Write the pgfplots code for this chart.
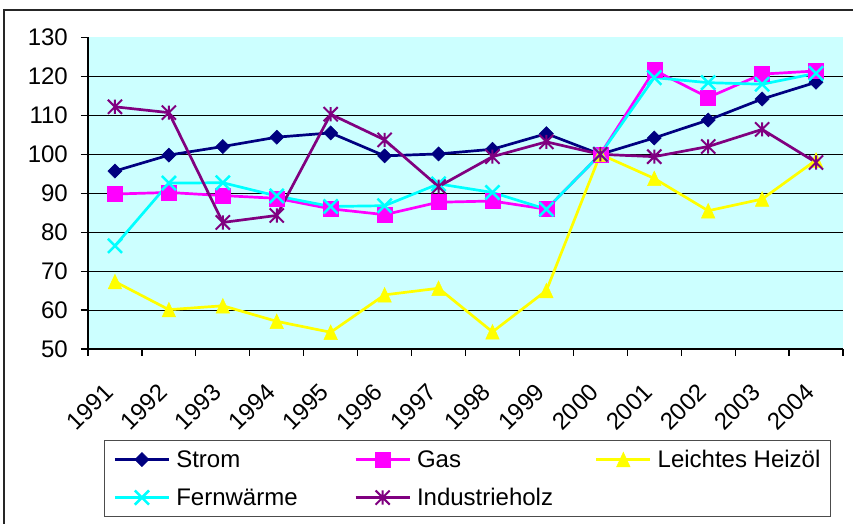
\documentclass[border=0pt]{standalone}
\usepackage{fontspec}
\setmainfont{Liberation Sans}
\usepackage{pgfplots}
\pgfplotsset{compat=1.18}
\definecolor{bgc}{HTML}{CCFFFF}
\definecolor{cstrom}{HTML}{000080}
\definecolor{cgas}{HTML}{FF00FF}
\definecolor{cheiz}{HTML}{FFFF00}
\definecolor{cfern}{HTML}{00FFFF}
\definecolor{cholz}{HTML}{800080}
\newcommand{\bigf}{\fontsize{24}{28}\selectfont}
\pgfdeclareplotmark{xstar}{%
  \pgfpathmoveto{\pgfqpoint{0pt}{.7071\pgfplotmarksize}}%
  \pgfpathlineto{\pgfqpoint{0pt}{-.7071\pgfplotmarksize}}%
  \pgfpathmoveto{\pgfqpoint{-.7071\pgfplotmarksize}{-.7071\pgfplotmarksize}}%
  \pgfpathlineto{\pgfqpoint{.7071\pgfplotmarksize}{.7071\pgfplotmarksize}}%
  \pgfpathmoveto{\pgfqpoint{-.7071\pgfplotmarksize}{.7071\pgfplotmarksize}}%
  \pgfpathlineto{\pgfqpoint{.7071\pgfplotmarksize}{-.7071\pgfplotmarksize}}%
  \pgfusepathqstroke}
\begin{document}
\begin{tikzpicture}[x=1pt,y=1pt]
\useasboundingbox (0,0) rectangle (853,524);
\draw[black!85, line width=1.5pt] (4,-20) -- (4,514) -- (880,514);
\begin{axis}[
  at={(88pt,175pt)}, anchor=south west,
  scale only axis, width=755pt, height=311.5pt,
  xmin=0.5, xmax=14.5, ymin=50, ymax=130,
  clip=false,
  axis background/.style={fill=bgc},
  axis x line*=bottom, axis y line*=left,
  axis line style={black, line width=1.2pt, -},
  tick align=outside,
  major tick length=7pt, minor tick length=7pt,
  tick style={black, line width=1.2pt},
  xtick={1,...,14},
  xticklabels={1991,1992,1993,1994,1995,1996,1997,1998,1999,2000,2001,2002,2003,2004},
  major x tick style={draw=none},
  minor xtick={0.5,1.5,...,14.5},
  ytick={50,60,...,130},
  extra y ticks={60,70,...,120},
  extra y tick labels={},
  extra y tick style={grid=major},
  grid style={black, line width=1pt},
  /pgf/number format/assume math mode=true,
  ticklabel style={font=\bigf},
  yticklabel style={anchor=east, inner sep=0pt, xshift=-13pt},
  xticklabel style={xshift=-6pt, yshift=-32pt, rotate=45, anchor=east, inner sep=0pt},
  legend columns=3,
  legend cell align=left,
  legend style={at={(0.0212,-0.292)}, anchor=north west, draw=black!70, line width=1.2pt,
    font=\bigf, inner xsep=9pt, inner ysep=0pt, column sep=0pt,
    nodes={inner xsep=6pt, inner ysep=10pt, text height=17pt, text depth=1pt}},
  legend image code/.code={\draw[mark repeat=2,mark phase=2] plot coordinates {(0pt,0pt) (27pt,0pt) (54pt,0pt)};},
]
\addplot[cstrom, line width=2.7pt, mark=square*, mark size=5pt, mark options={rotate=45, fill=cstrom, line width=0.5pt}]
coordinates {(1,95.7)(2,99.8)(3,102.0)(4,104.4)(5,105.5)(6,99.6)(7,100.1)(8,101.3)(9,105.3)(10,100)(11,104.2)(12,108.8)(13,114.2)(14,118.5)};
\addlegendentry{\makebox[172pt][l]{Strom}}
\addplot[cgas, line width=2.7pt, mark=square*, mark size=7.5pt, mark options={fill=cgas, line width=0.5pt}]
coordinates {(1,89.8)(2,90.2)(3,89.4)(4,88.7)(5,86.0)(6,84.5)(7,87.7)(8,88.0)(9,85.9)(10,100)(11,121.6)(12,114.6)(13,120.6)(14,121.4)};
\addlegendentry{\makebox[172pt][l]{Gas}}
\addplot[cheiz, line width=2.7pt, mark=triangle*, mark size=7.8pt, mark options={fill=cheiz, line width=0.5pt, yshift=-2.4pt, yscale=1.25}]
coordinates {(1,67.3)(2,60.1)(3,61.1)(4,57.1)(5,54.3)(6,63.9)(7,65.6)(8,54.4)(9,65.0)(10,100)(11,93.8)(12,85.5)(13,88.5)(14,98.5)};
\addlegendentry{\makebox[158pt][l]{Leichtes Heizöl}}
\addplot[cfern, line width=2.7pt, mark=x, mark size=10pt, mark options={line width=2.5pt}]
coordinates {(1,76.5)(2,92.6)(3,92.7)(4,89.3)(5,86.6)(6,86.8)(7,92.4)(8,90.2)(9,85.9)(10,100)(11,119.7)(12,118.4)(13,118.0)(14,120.8)};
\addlegendentry{\makebox[172pt][l]{Fernwärme}}
\addplot[cholz, line width=2.7pt, mark=xstar, mark size=10pt, mark options={line width=2pt}]
coordinates {(1,112.2)(2,110.7)(3,82.5)(4,84.3)(5,110.3)(6,103.7)(7,91.7)(8,99.4)(9,103.2)(10,100)(11,99.4)(12,102.0)(13,106.4)(14,97.9)};
\addlegendentry{\makebox[172pt][l]{Industrieholz}}
\end{axis}
\end{tikzpicture}
\end{document}
